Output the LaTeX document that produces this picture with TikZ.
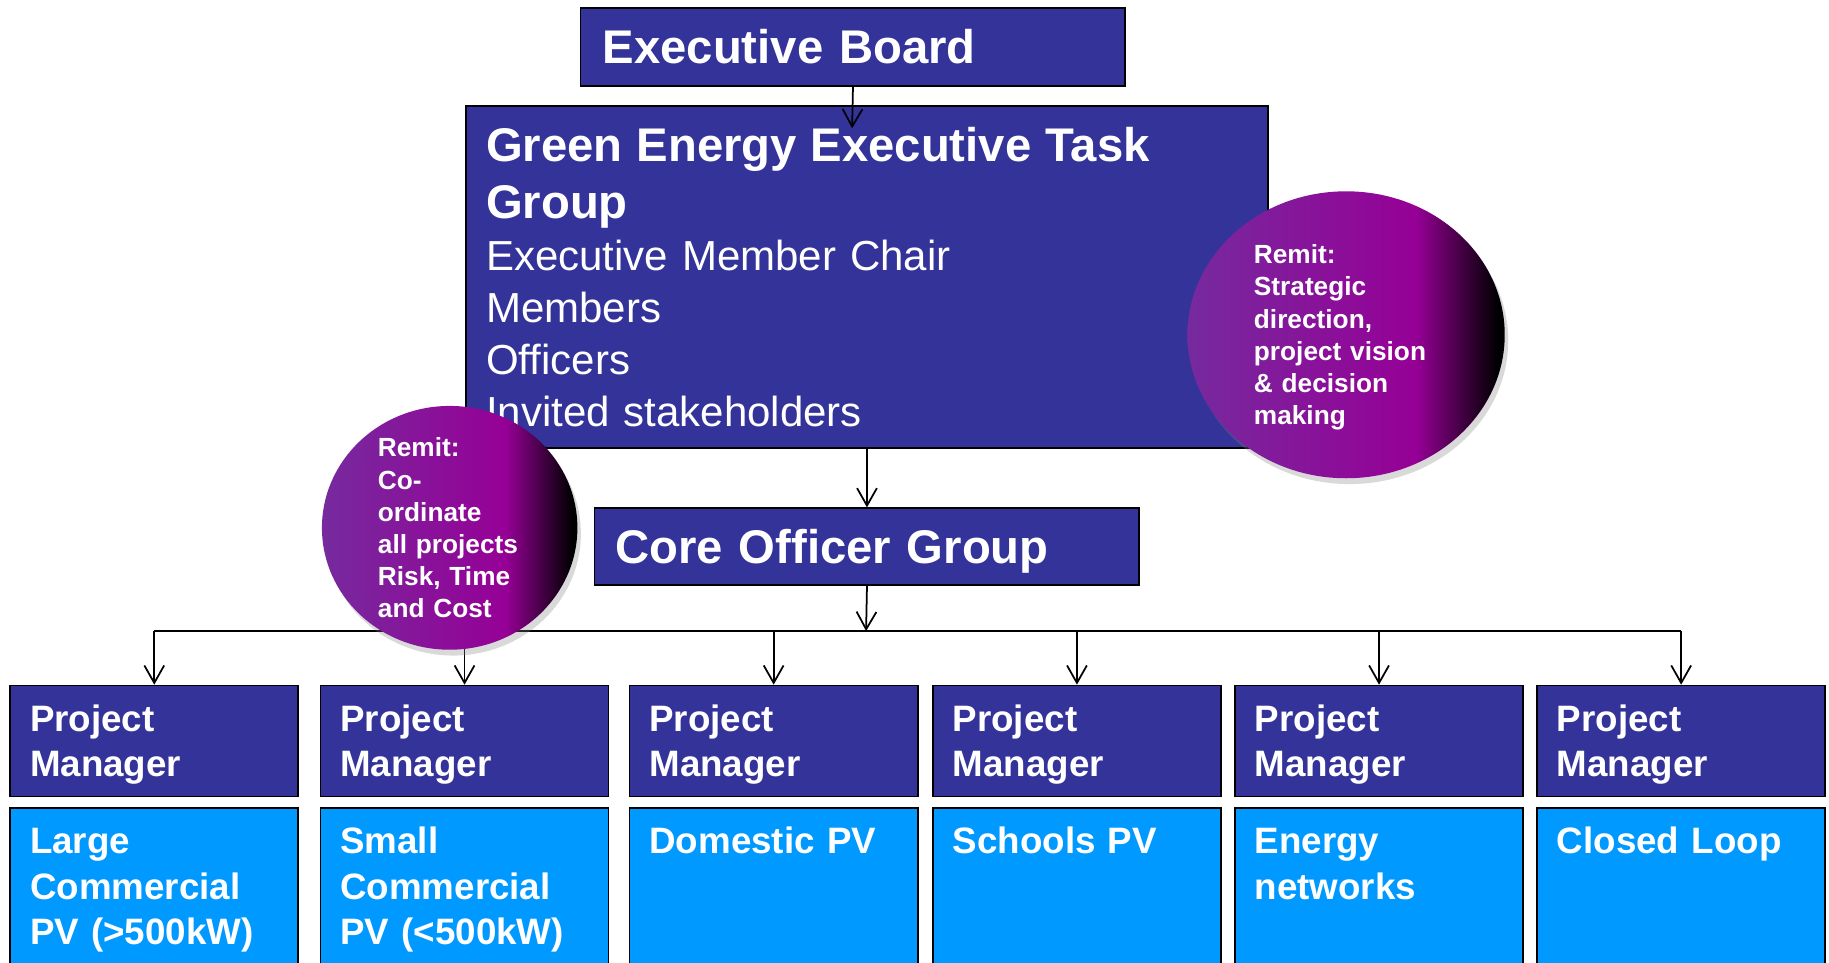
\documentclass[tikz,border=0pt]{standalone}
\usepackage{fontspec}
\setmainfont{Liberation Sans}
\usetikzlibrary{shapes.geometric,arrows.meta,shadows}
\definecolor{boxblue}{RGB}{51,51,153}
\definecolor{projblue}{RGB}{0,153,255}
\definecolor{remitl}{RGB}{118,42,158}
\definecolor{remitm}{RGB}{150,0,150}
\pgfdeclarehorizontalshading{remitshade}{100bp}{color(0bp)=(remitl); color(25bp)=(remitl); color(61bp)=(remitm); color(74bp)=(black); color(100bp)=(black)}

\begin{document}
\begin{tikzpicture}[x=1pt,y=-1pt,
    box/.style={draw=black,line width=1.5pt,fill=boxblue,text=white,anchor=north west,align=left,inner ysep=0pt},
    head/.style={box,font=\bfseries\fontsize{40.5}{49}\selectfont,text height=29pt,text depth=0pt},
    pm/.style={box,font=\bfseries\fontsize{31.5}{39}\selectfont,text width=213pt,inner xsep=17pt,text height=22.6pt,text depth=39pt,minimum height=95pt},
    proj/.style={pm,fill=projblue,inner ysep=16.4pt,text depth=130pt,minimum height=0pt},
    remit/.style={ellipse,draw=none,shade,shading=remitshade,drop shadow={opacity=.3,shadow xshift=3pt,shadow yshift=-5pt}},
    remittext/.style={text=white,align=left,inner sep=0pt,font=\bfseries\fontsize{22.5}{27.5}\selectfont,text height=16pt,text depth=137.5pt},
    arr/.style={line width=1.5pt,-{Straight Barb[length=15pt,width=17pt]}}]
    \useasboundingbox (0,0) rectangle (1568,825);
    \clip (0,0) rectangle (1568,825);
    \node[head,text width=429pt,inner xsep=19pt,minimum height=67pt] (eb) at (497,6) {Executive Board};
    \node[box,font=\fontsize{36}{44.5}\selectfont,text width=653pt,inner xsep=17pt,minimum height=293pt,text height=29pt,text depth=227pt] (geetg) at (399,90) {{\bfseries\fontsize{40.5}{49}\selectfont Green Energy Executive Task\\Group\par}Executive Member Chair\\Members\\Officers\\Invited stakeholders};
    \node[head,text width=431pt,inner xsep=18pt,minimum height=66pt] (cog) at (509,435) {Core Officer Group};
    \foreach \x/\name [count=\i] in {8/{Large\\Commercial\\PV (>500kW)},274/{Small\\Commercial\\PV (<500kW)},539/Domestic PV,799/Schools PV,1058/{Energy\\networks},1317/Closed Loop}{
        \node[pm] (pm\i) at (\x,587) {Project\\Manager};
        \node[proj] (proj\i) at (\x,692) {\name};
    }
    \coordinate (ebtip) at (730.5,110);
    \coordinate (bus) at (742.5,541);
    \draw[arr] (eb.south) -- (ebtip);
    \draw[arr] (geetg.south) -- (cog.north);
    \draw[arr] (cog.south) -- (bus);
    \draw[line width=1.5pt] (pm1.north |- bus) -- (pm6.north |- bus);
    \foreach \i in {1,...,6}
        \draw[arr] (pm\i.north |- bus) -- (pm\i.north);
    \node[remit,minimum width=272pt,minimum height=246pt] (remitexec) at (1154,287) {};
    \node[remittext,text width=158pt] (remitexectext) at (remitexec.center) {Remit:\\Strategic\\direction,\\project vision\\\& decision\\making};
    \node[remit,minimum width=219pt,minimum height=209pt] (remitcore) at (385.5,452.5) {};
    \node[remittext,text width=123pt] (remitcoretext) at (remitcore.center) {Remit:\\Co-\\ordinate\\all projects\\Risk, Time\\and Cost};
\end{tikzpicture}
\end{document}
